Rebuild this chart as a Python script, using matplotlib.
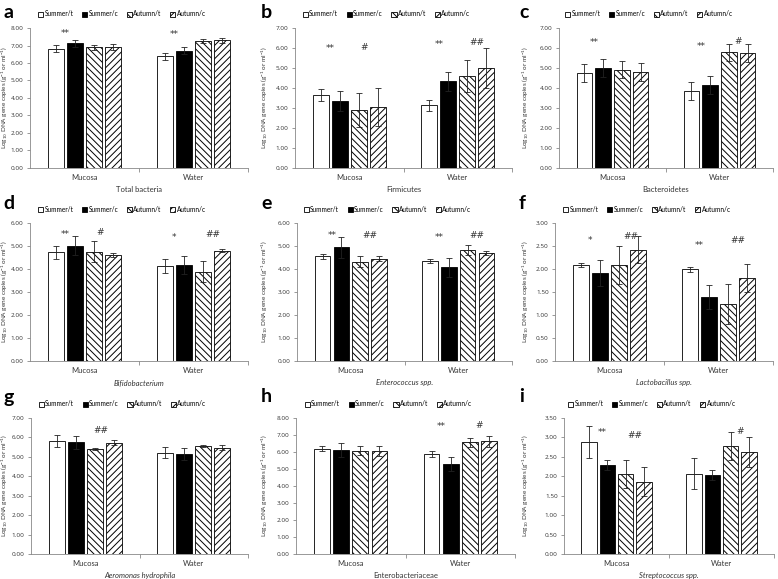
import matplotlib.pyplot as plt
import numpy as np

plt.rcParams['font.family'] = ['Lato', 'DejaVu Sans']
plt.rcParams['mathtext.fontset'] = 'custom'
plt.rcParams['mathtext.rm'] = 'Lato'
plt.rcParams['hatch.linewidth'] = 0.7

series = ['Summer/t', 'Summer/c', 'Autumn/t', 'Autumn/c']
groups = ['Mucosa', 'Water']

# panel data: rows = Mucosa, Water; columns = series
mean_a = [[6.82, 7.12, 6.90, 6.90], [6.38, 6.70, 7.25, 7.30]]
err_a = [[0.20, 0.18, 0.15, 0.18], [0.20, 0.20, 0.12, 0.15]]
mean_b = [[3.65, 3.34, 2.92, 3.07], [3.14, 4.33, 4.60, 5.00]]
err_b = [[0.28, 0.50, 0.85, 0.95], [0.28, 0.47, 0.82, 0.98]]
mean_c = [[4.75, 5.02, 4.92, 4.82], [3.87, 4.17, 5.78, 5.75]]
err_c = [[0.45, 0.45, 0.42, 0.45], [0.45, 0.45, 0.42, 0.45]]
mean_d = [[4.72, 5.02, 4.75, 4.60], [4.12, 4.18, 3.88, 4.80]]
err_d = [[0.30, 0.40, 0.45, 0.08], [0.30, 0.40, 0.45, 0.08]]
mean_e = [[4.55, 4.95, 4.32, 4.45], [4.35, 4.08, 4.82, 4.70]]
err_e = [[0.10, 0.45, 0.25, 0.12], [0.10, 0.42, 0.22, 0.10]]
mean_f = [[2.09, 1.91, 2.09, 2.42], [1.99, 1.40, 1.24, 1.80]]
err_f = [[0.05, 0.28, 0.42, 0.30], [0.05, 0.26, 0.43, 0.30]]
mean_g = [[5.82, 5.75, 5.40, 5.72], [5.22, 5.15, 5.55, 5.47]]
err_g = [[0.30, 0.32, 0.06, 0.13], [0.30, 0.30, 0.06, 0.13]]
mean_h = [[6.18, 6.13, 6.07, 6.05], [5.88, 5.30, 6.58, 6.62]]
err_h = [[0.15, 0.40, 0.27, 0.30], [0.15, 0.40, 0.27, 0.30]]
mean_i = [[2.88, 2.30, 2.06, 1.86], [2.07, 2.03, 2.78, 2.62]]
err_i = [[0.42, 0.13, 0.37, 0.38], [0.41, 0.13, 0.37, 0.38]]

# significance marks: (group, bar slot, y, text)
marks_a = [(0, 0.5, 7.7, '**'), (1, 0.5, 7.6, '**')]
marks_b = [(0, 0.5, 5.95, '**'), (0, 2.3, 6.0, '#'), (1, 0.5, 6.2, '**'), (1, 2.5, 6.28, '##')]
marks_c = [(0, 0.5, 6.25, '**'), (1, 0.5, 6.1, '**'), (1, 2.5, 6.35, '#')]
marks_d = [(0, 0.5, 5.49, '**'), (0, 2.3, 5.57, '#'), (1, 0.5, 5.38, '*'), (1, 2.5, 5.5, '##')]
marks_e = [(0, 0.5, 5.46, '**'), (0, 2.5, 5.46, '##'), (1, 0.5, 5.38, '**'), (1, 2.5, 5.46, '##')]
marks_f = [(0, 0.5, 2.62, '*'), (0, 2.6, 2.70, '##'), (1, 0.5, 2.52, '**'), (1, 2.5, 2.62, '##')]
marks_g = [(0, 2.3, 6.35, '##')]
marks_h = [(1, 0.5, 7.48, '**'), (1, 2.5, 7.57, '#')]
marks_i = [(0, 0.7, 3.13, '**'), (0, 2.5, 3.05, '##'), (1, 2.5, 3.16, '#')]

letters = ['a', 'b', 'c', 'd', 'e', 'f', 'g', 'h', 'i']
taxa = ['Total bacteria', 'Firmicutes', 'Bacteroidetes', 'Bifidobacterium',
        'Enterococcus spp.', 'Lactobacillus spp.', 'Aeromonas hydrophila',
        'Enterobacteriaceae', 'Streptococcus spp.']
italic = [False, False, False, True, True, True, True, False, True]
ymax = [8, 7, 7, 6, 6, 3, 7, 8, 3.5]
ystep = [1, 1, 1, 1, 1, 0.5, 1, 1, 0.5]

means = [mean_a, mean_b, mean_c, mean_d, mean_e, mean_f, mean_g, mean_h, mean_i]
errs = [err_a, err_b, err_c, err_d, err_e, err_f, err_g, err_h, err_i]
marks = [marks_a, marks_b, marks_c, marks_d, marks_e, marks_f, marks_g, marks_h, marks_i]

W, H = 778, 579
fig = plt.figure(figsize=(W / 100, H / 100), dpi=100)

# axes boxes in pixels: left, right, top, bottom
lefts = [[30, 295, 559], [30, 297, 555], [31, 296, 564]]
rights = [[248, 512, 773], [248, 512, 773], [248, 515, 774]]
tops = [28, 223, 418]
bottoms = [168, 361, 554]
legend_y = [14, 209, 404]
letter_y = [12, 204, 397]
ylabel_x = [10, 270, 531]  # right edge of the rotated y label, px

styles = [dict(color='white', hatch=None), dict(color='black', hatch=None),
          dict(color='white', hatch='\\\\\\\\\\'), dict(color='white', hatch='/////')]
step = 0.175
width = 0.145

for k in range(9):
    r, c = divmod(k, 3)
    l, rr, t, b = lefts[r][c], rights[r][c], tops[r], bottoms[r]
    ax = fig.add_axes([l / W, 1 - b / H, (rr - l) / W, (b - t) / H])
    m = np.array(means[k])
    e = np.array(errs[k])
    x = np.arange(len(groups))
    for j, s in enumerate(series):
        ax.bar(x + (j - 1.5) * step, m[:, j], width, yerr=e[:, j],
               color=styles[j]['color'], hatch=styles[j]['hatch'],
               edgecolor='black', linewidth=0.6, label=s,
               error_kw=dict(ecolor='#222222', elinewidth=0.6, capsize=2, capthick=0.6))
    for g, slot, y, txt in marks[k]:
        ax.text(g + (slot - 1.5) * step, y, txt, ha='center', va='center',
                fontsize=6.5, color='#333333', family='DejaVu Sans')
    ax.set_xlim(-0.5, 1.5)
    ax.set_ylim(0, ymax[k])
    yt = np.arange(0, ymax[k] + 1e-9, ystep[k])
    ax.set_yticks(yt)
    ax.set_yticklabels(['%.2f' % v for v in yt], family='Open Sans')
    ax.set_xticks(x)
    ax.set_xticklabels(groups)
    ax.set_xticks([0.5, 1.5], minor=True)
    ax.tick_params(axis='x', which='major', length=0, labelsize=5.5, pad=4, labelcolor='#333333')
    ax.tick_params(axis='x', which='minor', length=3, color='#888888', width=0.6)
    ax.tick_params(axis='y', length=2.5, labelsize=4.6, color='#888888', width=0.6, pad=2,
                   labelcolor='#333333')
    for sp in ['top', 'right']:
        ax.spines[sp].set_visible(False)
    for sp in ['left', 'bottom']:
        ax.spines[sp].set_color('#888888')
        ax.spines[sp].set_linewidth(0.6)
    ax.set_xlabel(taxa[k], fontsize=5.5, style='italic' if italic[k] else 'normal',
                  labelpad=4, color='#333333')
    ax.set_ylabel('Log$_{10}$ DNA gene copies (g$^{-1}$ or ml$^{-1}$)', fontsize=4.6,
                  color='#333333')
    ax.yaxis.set_label_coords((ylabel_x[c] - l) / (rr - l), 0.5)
    cx = (l + rr) / 2 - 17
    ax.legend(loc='center', bbox_to_anchor=(cx / W, 1 - legend_y[r] / H),
              bbox_transform=fig.transFigure, ncol=4, frameon=False, fontsize=4.7,
              handlelength=0.8, handleheight=0.8, handletextpad=0.2, columnspacing=1.3,
              borderpad=0)
    fig.text((c * 258 + 3) / W, 1 - letter_y[r] / H, letters[k], fontsize=14,
             fontweight='bold', ha='left', va='center')

fig.savefig('out.png', dpi=100)
